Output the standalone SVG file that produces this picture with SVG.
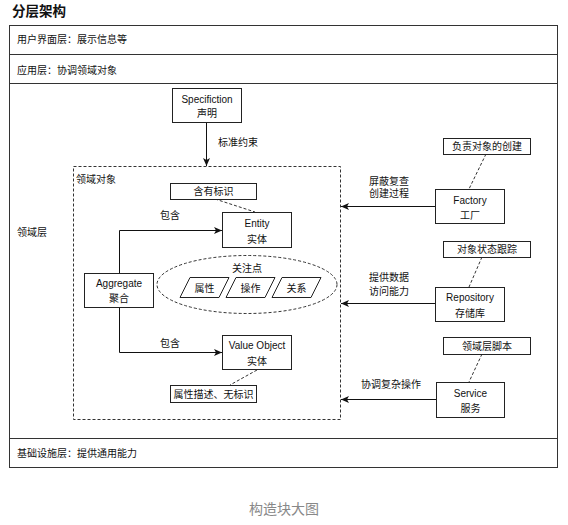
<svg xmlns="http://www.w3.org/2000/svg" width="568" height="525" viewBox="0 0 568 525">
<defs>
<marker id="arr" markerUnits="userSpaceOnUse" markerWidth="9" markerHeight="8" refX="8" refY="4" orient="auto">
<path d="M0,0.5 L8,4 L0,7.5 L2,4 Z" fill="#111"/>
</marker>
<style>
text{font-family:"Liberation Sans","Noto Sans CJK SC",sans-serif;font-size:10px;fill:#111;dominant-baseline:central}
.c{text-anchor:middle}
.box{fill:#fff;stroke:#222;stroke-width:1}
.layer{fill:#fff;stroke:#333;stroke-width:1}
.dash{fill:none;stroke:#333;stroke-width:1;stroke-dasharray:3 2}
.line{fill:none;stroke:#111;stroke-width:1}
.title{font-size:13.5px;font-weight:bold}
.cap{font-size:14px;fill:#888}
</style>
</defs>
<rect width="568" height="525" fill="#fff"/>
<text class="title" x="12" y="11">分层架构</text>

<g id="layers">
<rect class="layer" x="9.5" y="25.5" width="548" height="29"/>
<rect class="layer" x="9.5" y="54.5" width="548" height="29"/>
<rect class="layer" x="9.5" y="83.5" width="548" height="355"/>
<rect class="layer" x="9.5" y="438.5" width="548" height="29"/>
<text x="17" y="39.5">用户界面层：展示信息等</text>
<text x="17" y="70">应用层：协调领域对象</text>
<text x="17" y="232">领域层</text>
<text x="17" y="453">基础设施层：提供通用能力</text>
</g>

<g id="domain-objects">
<rect class="dash" x="73.5" y="166.5" width="267" height="253"/>
<text x="76" y="179">领域对象</text>
</g>

<g id="connectors">
<line class="line" x1="206.5" y1="122" x2="206.5" y2="166" marker-end="url(#arr)"/>
<polyline class="line" points="119.5,273 119.5,230.5 222,230.5" marker-end="url(#arr)"/>
<polyline class="line" points="119.5,307 119.5,352.5 222,352.5" marker-end="url(#arr)"/>
<line class="line" x1="435" y1="206.5" x2="341" y2="206.5" marker-end="url(#arr)"/>
<line class="line" x1="435" y1="303.5" x2="341" y2="303.5" marker-end="url(#arr)"/>
<line class="line" x1="436" y1="399.5" x2="341" y2="399.5" marker-end="url(#arr)"/>
<line class="dash" x1="215" y1="199" x2="255" y2="212"/>
<line class="dash" x1="257" y1="370" x2="230" y2="385"/>
<line class="dash" x1="486" y1="154" x2="469" y2="189"/>
<line class="dash" x1="482" y1="257" x2="469" y2="287"/>
<line class="dash" x1="482" y1="354" x2="469" y2="382"/>
<text x="218" y="142">标准约束</text>
<text class="c" x="170" y="215">包含</text>
<text class="c" x="170" y="343">包含</text>
<text class="c" x="389" y="181">屏蔽复查</text>
<text class="c" x="389" y="193">创建过程</text>
<text class="c" x="389" y="277">提供数据</text>
<text class="c" x="389" y="291">访问能力</text>
<text class="c" x="391" y="384">协调复杂操作</text>
</g>

<g id="specification">
<rect class="box" x="172.5" y="88.5" width="69" height="34"/>
<text class="c" x="207" y="99">Specifiction</text>
<text class="c" x="207" y="113">声明</text>
</g>

<g id="has-identity">
<rect class="box" x="170.5" y="183.5" width="86" height="16"/>
<text class="c" x="213.5" y="191.5">含有标识</text>
</g>

<g id="entity">
<rect class="box" x="222.5" y="212.5" width="69" height="35"/>
<text class="c" x="257" y="223">Entity</text>
<text class="c" x="257" y="239">实体</text>
</g>

<g id="aggregate">
<rect class="box" x="84.5" y="273.5" width="69" height="34"/>
<text class="c" x="119" y="283.5">Aggregate</text>
<text class="c" x="119" y="298">聚合</text>
</g>

<g id="concerns">
<ellipse class="dash" cx="247" cy="284.5" rx="90" ry="29"/>
<text class="c" x="247" y="268">关注点</text>
</g>
<g id="attr">
<polygon class="box" points="190,277.5 229,277.5 219,297.5 180,297.5"/>
<text class="c" x="204.5" y="288">属性</text>
</g>
<g id="op">
<polygon class="box" points="236,277.5 275,277.5 265,297.5 226,297.5"/>
<text class="c" x="250.5" y="288">操作</text>
</g>
<g id="rel">
<polygon class="box" points="282,277.5 321,277.5 311,297.5 272,297.5"/>
<text class="c" x="296.5" y="288">关系</text>
</g>

<g id="value-object">
<rect class="box" x="222.5" y="335.5" width="69" height="34"/>
<text class="c" x="257" y="345.5">Value Object</text>
<text class="c" x="257" y="361">实体</text>
</g>

<g id="attr-desc">
<rect class="box" x="170.5" y="385.5" width="86" height="17"/>
<text class="c" x="213.5" y="394">属性描述、无标识</text>
</g>

<g id="factory-note">
<rect class="box" x="443.5" y="138.5" width="87" height="16"/>
<text class="c" x="487" y="146.5">负责对象的创建</text>
</g>
<g id="factory">
<rect class="box" x="435.5" y="189.5" width="69" height="34"/>
<text class="c" x="470" y="200">Factory</text>
<text class="c" x="470" y="215">工厂</text>
</g>

<g id="repository-note">
<rect class="box" x="443.5" y="241.5" width="87" height="16"/>
<text class="c" x="487" y="249.5">对象状态跟踪</text>
</g>
<g id="repository">
<rect class="box" x="435.5" y="287.5" width="69" height="34"/>
<text class="c" x="470" y="297.5">Repository</text>
<text class="c" x="470" y="313">存储库</text>
</g>

<g id="service-note">
<rect class="box" x="443.5" y="337.5" width="87" height="17"/>
<text class="c" x="487" y="346">领域层脚本</text>
</g>
<g id="service">
<rect class="box" x="436.5" y="382.5" width="68" height="35"/>
<text class="c" x="470.5" y="393">Service</text>
<text class="c" x="470.5" y="408.5">服务</text>
</g>

<text class="cap c" x="284" y="509">构造块大图</text>
</svg>
